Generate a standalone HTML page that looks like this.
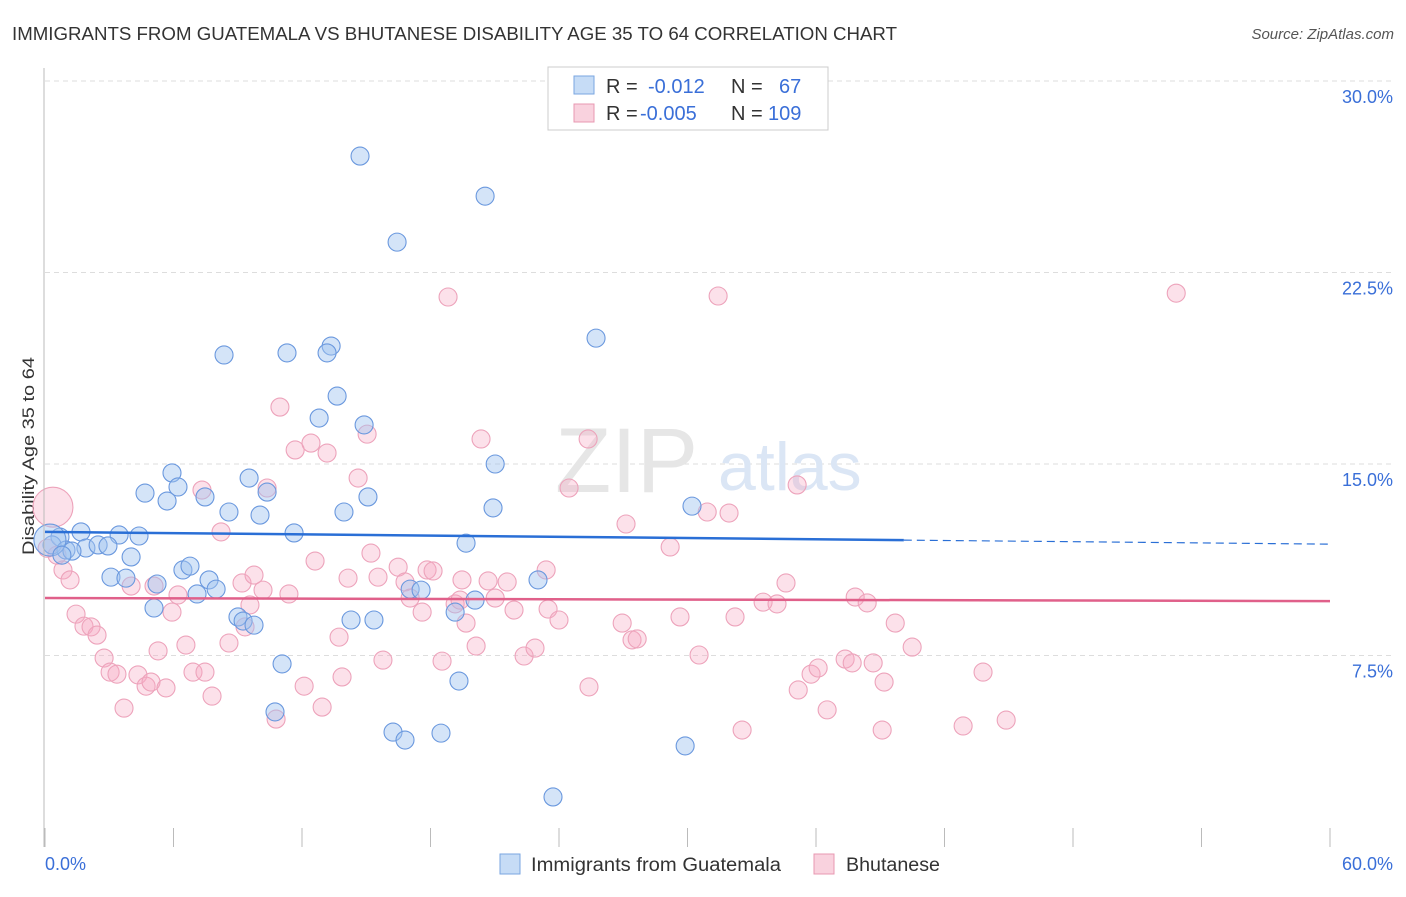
<!DOCTYPE html>
<html><head><meta charset="utf-8"><style>
body{margin:0;background:#fff;font-family:"Liberation Sans",sans-serif}
svg text{font-family:"Liberation Sans",sans-serif}
</style></head><body>
<svg id="chart" width="1406" height="892">
<text x="12" y="40" font-size="18" fill="#333" textLength="885" lengthAdjust="spacingAndGlyphs">IMMIGRANTS FROM GUATEMALA VS BHUTANESE DISABILITY AGE 35 TO 64 CORRELATION CHART</text>
<text x="1394" y="39" font-size="15" fill="#555" font-style="italic" text-anchor="end">Source: ZipAtlas.com</text>
<text x="34" y="456" font-size="17" fill="#333" text-anchor="middle" transform="rotate(-90 34 456)" textLength="198" lengthAdjust="spacingAndGlyphs">Disability Age 35 to 64</text>
<g id="grid"></g>
<text x="555" y="492" font-size="92" fill="#e6e6e6" font-family="Liberation Serif">ZIP</text>
<text x="718" y="490" font-size="68" fill="#dbe6f5">atlas</text>
<g id="pts"></g>
<g id="lines"></g>
<line x1="44" y1="68" x2="44" y2="847" stroke="#bbb"/>
<g>
<rect x="548" y="67" width="280" height="63" fill="#fff" stroke="#ccc"/>
<rect x="574" y="76" width="20" height="18" fill="rgba(160,196,240,0.6)" stroke="#7aa6e0"/>
<rect x="574" y="104" width="20" height="18" fill="rgba(245,180,200,0.6)" stroke="#e898b2"/>
<text x="606" y="93" font-size="20" fill="#333">R =</text><text x="648" y="93" font-size="20" fill="#3a6fd8">-0.012</text>
<text x="731" y="93" font-size="20" fill="#333">N =</text><text x="779" y="93" font-size="20" fill="#3a6fd8">67</text>
<text x="606" y="120" font-size="20" fill="#333">R =</text><text x="640" y="120" font-size="20" fill="#3a6fd8">-0.005</text>
<text x="731" y="120" font-size="20" fill="#333">N =</text><text x="768" y="120" font-size="20" fill="#3a6fd8">109</text>
</g>
<g>
<rect x="500" y="854" width="20" height="20" fill="rgba(160,196,240,0.6)" stroke="#7aa6e0"/>
<text x="531" y="871" font-size="19" fill="#333" textLength="250" lengthAdjust="spacingAndGlyphs">Immigrants from Guatemala</text>
<rect x="814" y="854" width="20" height="20" fill="rgba(245,180,200,0.6)" stroke="#e898b2"/>
<text x="846" y="871" font-size="19" fill="#333" textLength="94" lengthAdjust="spacingAndGlyphs">Bhutanese</text>
</g>
<text x="45" y="870" font-size="18" fill="#3a6fd8">0.0%</text>
<text x="1393" y="870" font-size="18" fill="#3a6fd8" text-anchor="end">60.0%</text>
</svg>
<script>
const yTicks=[7.5,15,22.5,30];
const yTickLabels=["7.5%","15.0%","22.5%","30.0%"];
const xTickVals=[0,6,12,18,24,30,36,42,48,54,60];
const blueX=[14.71,20.55,16.44,25.73,8.36,11.30,13.36,13.17,13.64,12.80,14.90,21.02,5.93,9.53,6.21,4.67,7.47,10.37,5.70,8.59,10.04,15.08,13.96,20.92,30.21,1.68,0.70,3.46,4.39,11.63,19.66,0.33,0.98,1.91,2.48,2.94,1.26,4.02,3.08,3.78,6.44,6.77,5.23,7.66,7.99,7.10,23.02,5.09,9.01,9.25,9.76,14.29,15.36,17.05,17.56,20.08,19.15,11.07,19.33,10.74,16.25,16.81,18.49,29.89,23.72,0.23,0.79];
const blueY=[27.06,25.49,23.69,19.93,19.27,19.35,19.62,19.35,17.66,16.80,16.53,15.00,14.65,14.45,14.10,13.86,13.71,13.90,13.55,13.12,13.00,13.71,13.12,13.28,13.35,12.34,12.14,12.22,12.18,12.30,11.90,11.83,11.63,11.71,11.83,11.79,11.59,11.36,10.57,10.53,10.85,11.00,10.30,10.46,10.10,9.91,10.46,9.36,9.01,8.85,8.69,8.89,8.89,10.10,10.06,9.67,9.20,7.17,6.50,5.29,4.50,4.19,4.46,3.96,1.96,12.02,11.43];
const pinkX=[18.82,31.43,52.82,10.97,15.04,20.36,25.36,11.68,12.42,13.17,7.33,10.37,14.62,24.47,35.12,8.22,27.13,30.92,31.94,29.19,0.56,0.84,1.17,4.02,5.09,5.93,6.21,9.20,9.76,10.18,11.39,12.61,14.15,15.22,16.49,15.55,16.81,17.84,18.12,19.47,20.69,21.58,23.40,17.05,17.61,19.15,19.38,21.02,21.90,23.49,24.00,34.60,33.53,34.18,37.83,38.39,1.45,1.82,2.15,2.43,19.66,13.73,9.57,9.34,8.59,6.58,5.28,2.76,3.04,3.36,4.34,4.72,4.95,5.65,6.91,7.47,7.80,3.69,10.79,12.10,12.94,13.87,15.78,18.54,20.13,22.37,22.88,27.41,27.65,26.95,29.65,32.22,39.70,40.49,30.54,35.17,35.77,36.10,37.36,37.69,38.67,39.18,36.52,32.55,39.09,42.87,43.80,44.88,25.40,0.37,0.10];
const pinkY=[21.54,21.58,21.69,17.23,16.17,15.98,15.98,15.55,15.82,15.43,13.98,14.06,14.45,14.06,14.18,12.34,12.65,13.12,13.08,11.75,11.43,10.85,10.46,10.22,10.22,9.20,9.87,10.34,10.65,10.06,9.91,11.20,10.53,11.51,10.96,10.57,10.38,10.85,10.81,10.46,10.42,10.38,10.85,9.75,9.20,9.52,9.67,9.75,9.28,9.32,8.89,10.34,9.59,9.52,9.79,9.56,9.12,8.65,8.62,8.30,8.77,8.22,9.48,8.62,7.99,7.91,7.68,7.40,6.85,6.77,6.74,6.30,6.46,6.23,6.85,6.85,5.91,5.44,5.01,6.30,5.48,6.66,7.32,7.28,7.87,7.48,7.79,8.11,8.15,8.77,9.01,9.01,8.77,7.83,7.52,6.15,6.77,7.01,7.36,7.21,7.21,6.46,5.37,4.58,4.58,4.74,6.85,4.97,6.27,13.31,11.70];
const blueTrend=[[0,12.34],[40.1,12.02],[60,11.86]];
const pinkTrend=[[0,9.75],[60,9.63]];
const NS="http://www.w3.org/2000/svg";
const X=v=>45+v/60*1285;
const Y=v=>847-v/7.5*191.5;
function mk(t,a,p){const e=document.createElementNS(NS,t);for(const k in a)e.setAttribute(k,a[k]);p.appendChild(e);return e;}
const grid=document.getElementById('grid');
yTicks.forEach((t,i)=>{
 const l=mk('line',{x1:45,x2:1393,y1:Y(t),y2:Y(t),stroke:'#ddd','stroke-dasharray':'5,4'},grid);
 
 
 const tx=mk('text',{x:1393,y:Y(t)+22,'font-size':18,fill:'#3a6fd8','text-anchor':'end'},grid);
 tx.textContent=yTickLabels[i];
 
 
});
xTickVals.forEach(v=>{
 const l=mk('line',{x1:X(v),x2:X(v),y1:828,y2:847,stroke:'#bbb'},grid);
 
 
});
const pts=document.getElementById('pts');
pinkX.forEach((x,i)=>{
 const r=i===pinkX.length-2?20:9;
 const c=mk('circle',{cx:X(x),cy:Y(pinkY[i]),r:r,fill:'rgba(245,170,195,0.35)',stroke:'#eda3bb','stroke-width':1.1},pts);
 
 
});
blueX.forEach((x,i)=>{
 const r=i===blueX.length-2?16:9;
 const c=mk('circle',{cx:X(x),cy:Y(blueY[i]),r:r,fill:'rgba(160,196,240,0.45)',stroke:'#6a98de','stroke-width':1.1},pts);
 
 
});
const lines=document.getElementById('lines');
const b1=mk('line',{x1:X(blueTrend[0][0]),y1:Y(blueTrend[0][1]),x2:X(blueTrend[1][0]),y2:Y(blueTrend[1][1]),stroke:'#2a6fd6','stroke-width':2.5},lines);


const b2=mk('line',{x1:X(blueTrend[1][0]),y1:Y(blueTrend[1][1]),x2:X(blueTrend[2][0]),y2:Y(blueTrend[2][1]),stroke:'#2a6fd6','stroke-width':1.2,'stroke-dasharray':'8,5'},lines);


const p1=mk('line',{x1:X(pinkTrend[0][0]),y1:Y(pinkTrend[0][1]),x2:X(pinkTrend[1][0]),y2:Y(pinkTrend[1][1]),stroke:'#e0608a','stroke-width':2.5},lines);


</script>
</body></html>
